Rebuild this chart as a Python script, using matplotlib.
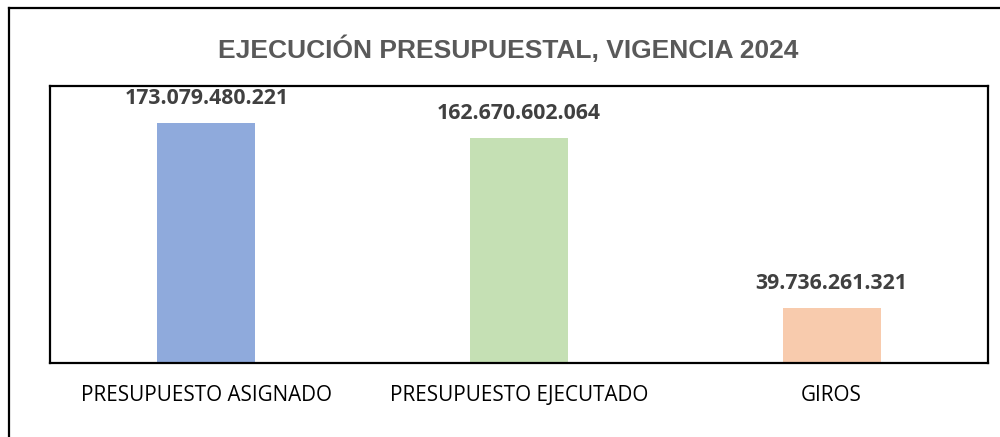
import matplotlib
matplotlib.use("Agg")
from matplotlib import pyplot as plt
from matplotlib.lines import Line2D

categories = ["PRESUPUESTO ASIGNADO", "PRESUPUESTO EJECUTADO", "GIROS"]
values = [173079480221, 162670602064, 39736261321]
bar_colors = ["#8FAADC", "#C5E0B4", "#F8CBAD"]
title = "EJECUCIÓN PRESUPUESTAL, VIGENCIA 2024"


def fmt(v):
    return f"{v:,}".replace(",", ".")


fig = plt.figure(figsize=(10, 4.37), dpi=100)

# outer chart frame (runs off the right/bottom edge)
fig.add_artist(Line2D([0.009, 0.009], [0.0, 0.982], color="black", lw=1.6))
fig.add_artist(Line2D([0.009, 1.0], [0.982, 0.982], color="black", lw=1.6))

ax = fig.add_axes([0.05, 0.1693, 0.938, 0.634])
x = list(range(len(categories)))
ax.bar(x, values, width=0.313, color=bar_colors)
ax.set_xlim(-0.5, 2.5)
ax.set_ylim(0, 200e9)
ax.set_xticks([])
ax.set_yticks([])
for s in ax.spines.values():
    s.set_linewidth(1.6)
    s.set_color("black")

for xi, v in zip(x, values):
    ax.annotate(fmt(v), (xi, v), xytext=(0, 10), textcoords="offset points",
                ha="center", va="bottom", fontsize=15.3, fontweight="bold",
                color="#404040", family="Open Sans", annotation_clip=False)

for xi, c in zip(x, categories):
    ax.text(xi, -0.118, c, transform=ax.get_xaxis_transform(), ha="center",
            va="center", fontsize=14.9, color="black", family="Open Sans")

fig.text(0.508, 0.888, title, ha="center", va="center", fontsize=19,
         fontweight="bold", color="#595959", family="Liberation Sans")

fig.savefig("out.png", dpi=100)
